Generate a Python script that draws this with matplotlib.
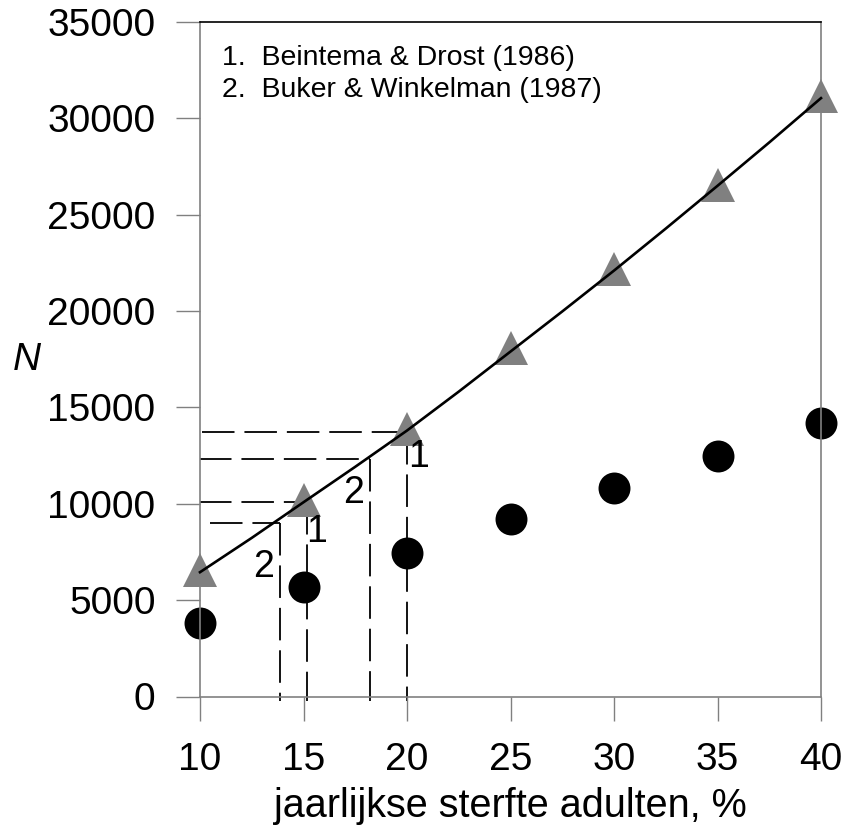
import matplotlib
matplotlib.use("Agg")
import matplotlib.pyplot as plt

plt.rcParams['font.family'] = ['Liberation Sans', 'DejaVu Sans']

# data
mortality = [10, 15, 20, 25, 30, 35, 40]
n_triangles = [6550, 10180, 13900, 18060, 22200, 26550, 31150]
n_circles = [3810, 5670, 7430, 9200, 10800, 12500, 14170]
fit_x = [10, 12.5, 15, 17.5, 20, 22.5, 25, 27.5, 30, 32.5, 35, 37.5, 40]
fit_y = [6450, 8230, 10080, 11920, 13800, 15820, 17900, 19980, 22100, 24280, 26500, 28750, 31050]

# dashed reference lines: (x where it meets curve, N value, left start x)
ref_x = [20.0, 18.2, 15.15, 13.87]
ref_n = [13750, 12300, 10100, 9000]
ref_start = [10.1, 9.95, 9.95, 10.5]
ref_labels = ["1", "2", "1", "2"]
ref_label_x = [20.55, 17.4, 15.65, 13.05]
ref_label_y = [12450, 10540, 8520, 6700]

legend_lines = ["1.  Beintema & Drost (1986)", "2.  Buker & Winkelman (1987)"]

xticks = [10, 15, 20, 25, 30, 35, 40]
yticks = [0, 5000, 10000, 15000, 20000, 25000, 30000, 35000]

fig = plt.figure(figsize=(8.46, 8.27), dpi=100)
ax = fig.add_axes([200/846, 1-696.5/827, (821-200)/846, (696.5-22)/827])

gray = '#808080'
for xv, nv, xs in zip(ref_x, ref_n, ref_start):
    ax.plot([xs, xv], [nv, nv], color='black', lw=1.3, dashes=(18, 5.5), zorder=1)
    ax.plot([xv, xv], [nv, -250], color='black', lw=1.3, dashes=(18, 5.5), zorder=1, clip_on=False)

ax.plot(mortality, n_triangles, linestyle='none', marker='^', markersize=24,
        color=gray, markeredgewidth=0, zorder=2, clip_on=False)
ax.plot(mortality, n_circles, linestyle='none', marker='o', markersize=23,
        color='black', markeredgewidth=0, zorder=2, clip_on=False)
ax.plot(fit_x, fit_y, color='black', lw=1.9, zorder=3, clip_on=False)

for lbl, lx, ly in zip(ref_labels, ref_label_x, ref_label_y):
    ax.text(lx, ly, lbl, fontsize=27, ha='center', va='center')

for i, t in enumerate(legend_lines):
    ax.text(222/846, 1-(58+32*i)/827, t, transform=fig.transFigure,
            fontsize=20.5, ha='left', va='center')

ax.set_xlim(10, 40)
ax.set_ylim(0, 35000)
ax.set_xticks(xticks)
ax.set_yticks(yticks)
ax.set_xticklabels([str(v) for v in xticks])
ax.set_yticklabels([str(v) for v in yticks])
ax.tick_params(axis='both', direction='out', length=17, width=1, color=gray,
               labelsize=28)
ax.tick_params(axis='y', pad=15)
ax.tick_params(axis='x', pad=16)

for s in ['left', 'bottom', 'right']:
    ax.spines[s].set_color(gray)
    ax.spines[s].set_linewidth(1.2)
ax.spines['top'].set_color('black')
ax.spines['top'].set_linewidth(1.2)

ax.set_xlabel("jaarlijkse sterfte adulten, %", fontsize=28.5, labelpad=6)
fig.text(27/846, 1-360/827, "N", fontsize=28, style='italic', ha='center', va='center')

fig.savefig("out.png", dpi=100)
